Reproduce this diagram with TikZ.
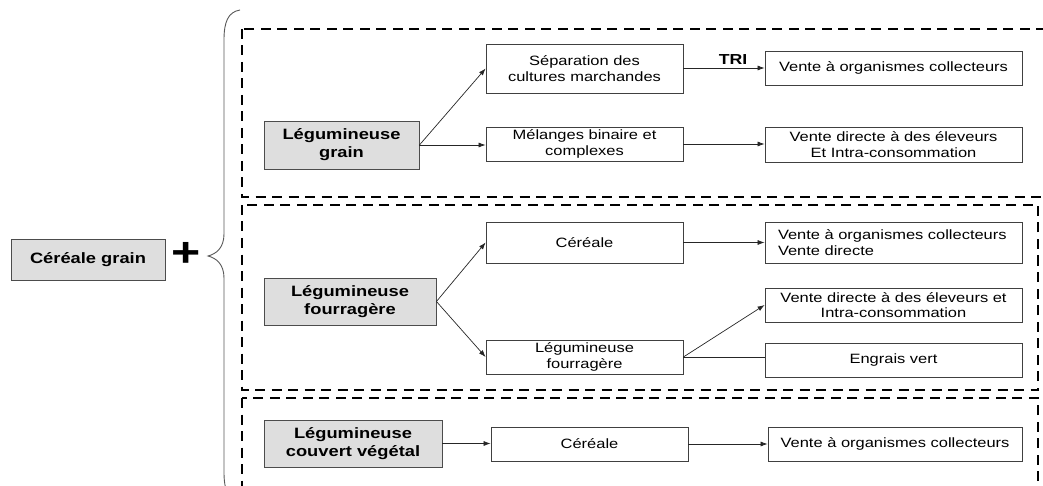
\documentclass[tikz,border=0pt]{standalone}
\usepackage{fontspec}
\setmainfont{Liberation Sans}[FakeStretch=1.22]
\usetikzlibrary{arrows.meta}
\tikzset{
  gbox/.style={draw=black!70, line width=0.9pt, fill=black!13, align=center, inner sep=0pt, font=\fontsize{15}{18}\selectfont\bfseries},
  wbox/.style={draw=black!75, line width=0.8pt, fill=white, align=center, inner sep=0pt, font=\fontsize{13.5}{15.5}\selectfont},
  arr/.style={draw=black!85, line width=0.7pt, -{Latex[length=7pt,width=5pt]}},
  plain/.style={draw=black!85, line width=0.7pt},
  dbox/.style={draw=black, line width=2.3pt, dash pattern=on 10pt off 6.5pt},
  brace/.style={draw=black!65, line width=0.9pt}
}
\begin{document}
\begin{tikzpicture}[x=1pt,y=-1pt]
\useasboundingbox (0,0) rectangle (1043,486);
\clip (0,0) rectangle (1043,486);
% dashed groups
\draw[dbox] (242,29) rectangle (1070,197);
\draw[dbox] (242,205) rectangle (1038,390);
\draw[dbox] (242,398) rectangle (1038,520);
% brace
\draw[brace] (240,10) .. controls (228,12) and (224,22) .. (224,40) -- (224,234) .. controls (224,248) and (216,254) .. (208,256) .. controls (216,258) and (224,264) .. (224,278) -- (224,472) .. controls (224,490) and (228,500) .. (240,502);
% main nodes
\node[gbox, minimum width=154pt, minimum height=41pt] (cg) at (88,259.5) {Céréale grain};
\node[font=\fontsize{41}{41}\selectfont\bfseries, inner sep=0pt] (plus) at (186,254) {+};
\node[gbox, minimum width=155pt, minimum height=48pt] (lg) at (341.5,145) {Légumineuse\\grain};
\node[gbox, minimum width=172pt, minimum height=47pt] (lf) at (350,301.5) {Légumineuse\\fourragère};
\node[gbox, minimum width=178pt, minimum height=47pt] (lc) at (353,443.5) {Légumineuse\\couvert végétal};
% group 1
\node[wbox, minimum width=197pt, minimum height=49pt] (sep) at (584.5,68.5) {Séparation des\\cultures marchandes};
\node[wbox, minimum width=197pt, minimum height=34pt] (mel) at (584.5,144) {Mélanges binaire et\\complexes};
\node[wbox, minimum width=257pt, minimum height=34pt] (v1) at (893.5,68) {Vente à organismes collecteurs};
\node[wbox, minimum width=257pt, minimum height=35pt] (v2) at (893.5,144.5) {Vente directe à des éleveurs\\Et Intra-consommation};
% group 2
\node[wbox, minimum width=197pt, minimum height=41pt] (cer2) at (584.5,242.5) {Céréale};
\node[wbox, minimum width=197pt, minimum height=34pt] (lf2) at (584.5,357) {Légumineuse\\fourragère};
\node[wbox, minimum width=257pt, minimum height=41pt, align=left, text width=231pt, inner xsep=13pt] (v3) at (893.5,242.5) {Vente à organismes collecteurs\\Vente directe};
\node[wbox, minimum width=257pt, minimum height=34pt] (v4) at (893.5,305) {Vente directe à des éleveurs et\\Intra-consommation};
\node[wbox, minimum width=257pt, minimum height=34pt] (v5) at (893.5,360) {Engrais vert};
% group 3
\node[wbox, minimum width=197pt, minimum height=34pt] (cer3) at (589.5,444) {Céréale};
\node[wbox, minimum width=254pt, minimum height=34pt] (v6) at (895,444) {Vente à organismes collecteurs};
% connectors
\draw[arr] (lg.east) -- (sep.west);
\draw[arr] (lg.east) -- (lg.east -| mel.west);
\draw[arr] (sep.east |- v1.west) -- node[above=3pt, xshift=9pt, font=\fontsize{14.5}{14.5}\selectfont\bfseries, inner sep=0pt] (tri) {TRI} (v1.west);
\draw[arr] (mel.east) -- (mel.east -| v2.west);
\draw[arr] (lf.east) -- (cer2.west);
\draw[arr] (lf.east) -- (lf2.west);
\draw[arr] (cer2.east) -- (v3.west);
\draw[arr] (lf2.east) -- (v4.west);
\draw[plain] (lf2.east) -- (lf2.east -| v5.west);
\draw[arr] (lc.east) -- (lc.east -| cer3.west);
\draw[arr] (cer3.east) -- (cer3.east -| v6.west);
\end{tikzpicture}
\end{document}
